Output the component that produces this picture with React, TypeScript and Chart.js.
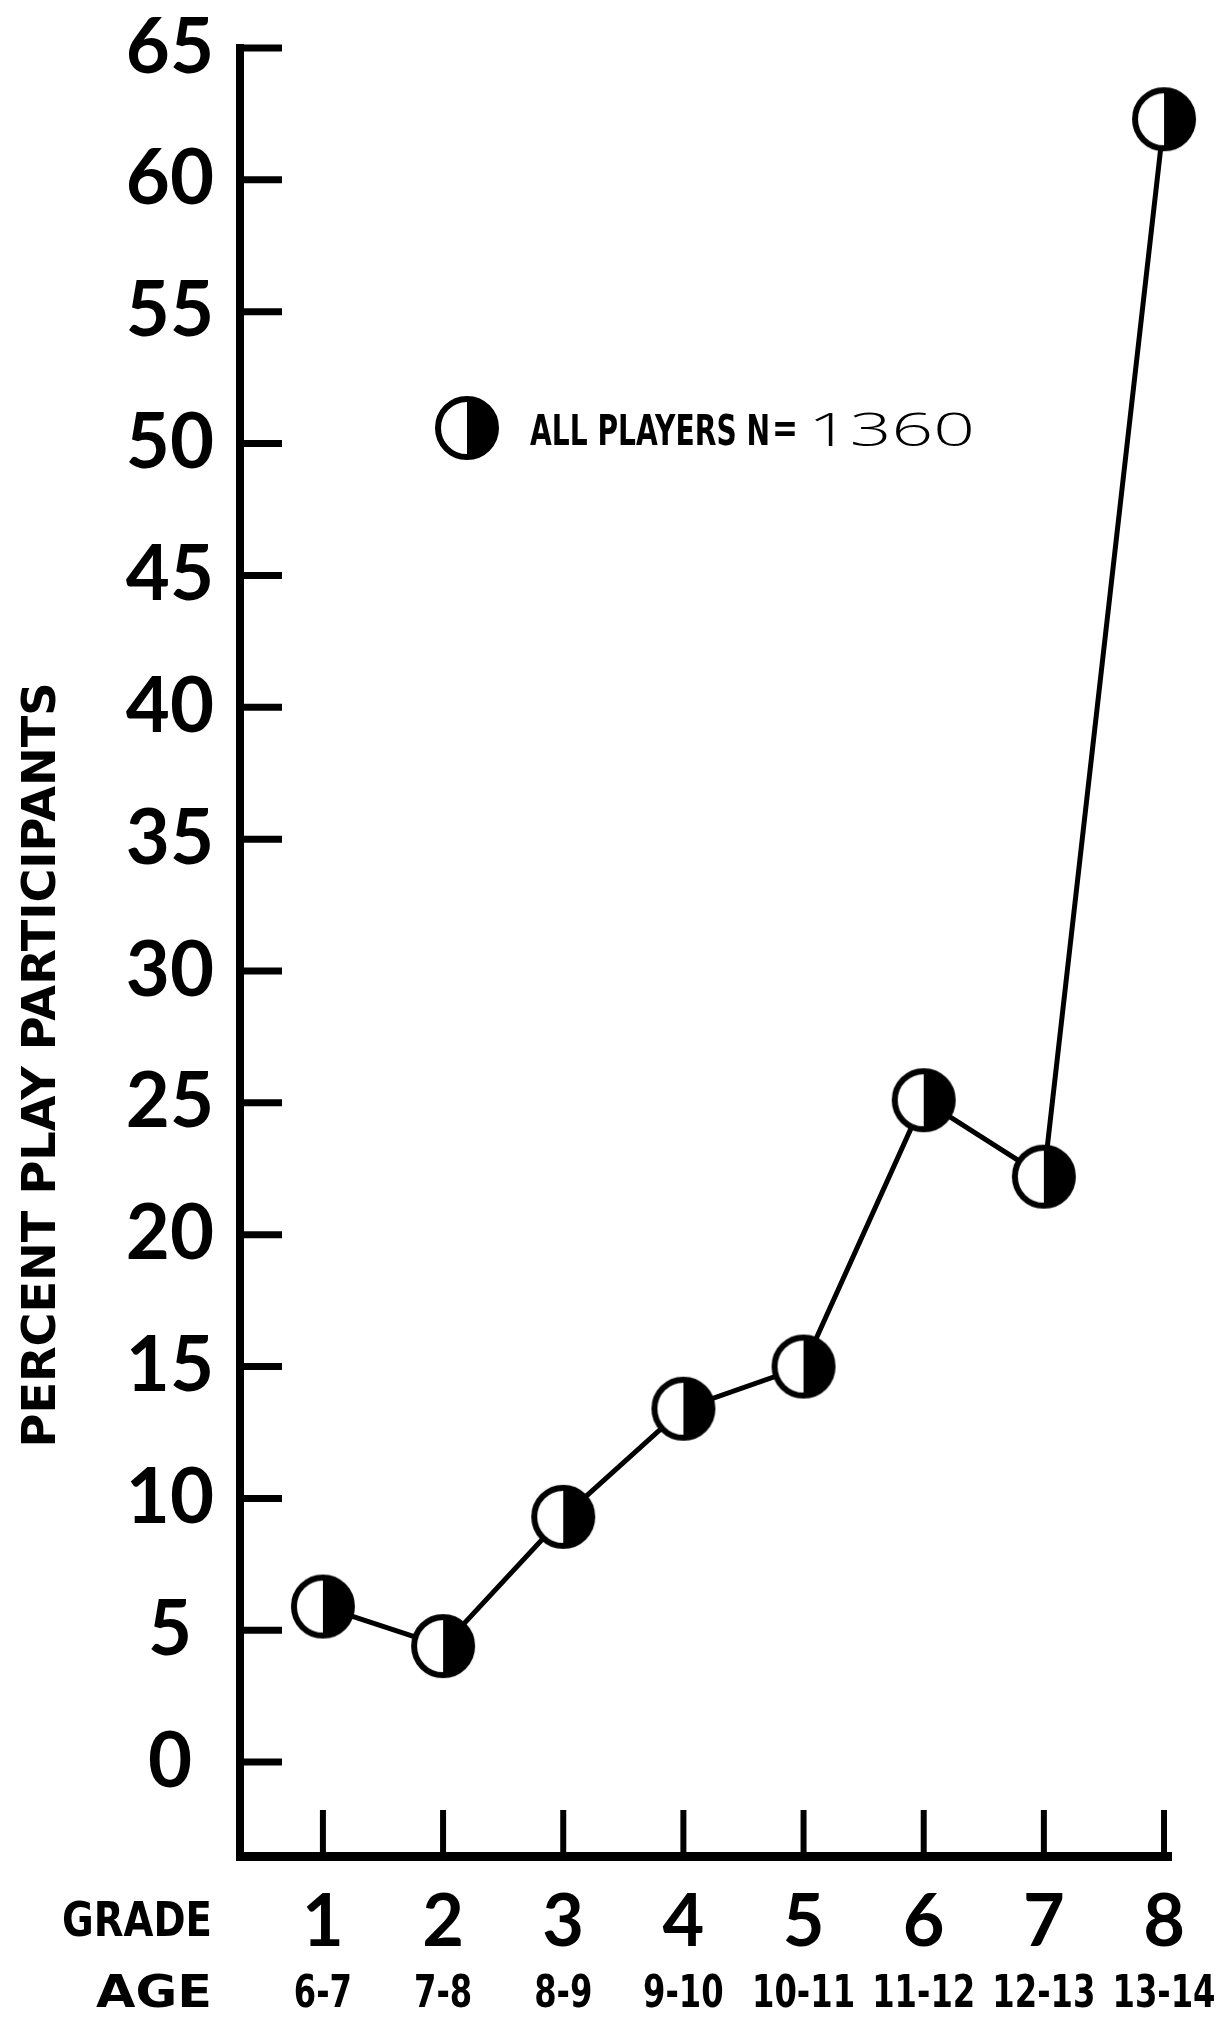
import React, { useEffect, useRef } from "react";
import { Chart, registerables } from "chart.js";

Chart.register(...registerables);

const grades = [1, 2, 3, 4, 5, 6, 7, 8];
const gradeLabels = ["1", "2", "3", "4", "5", "6", "7", "8"];
const ageLabels = ["6-7", "7-8", "8-9", "9-10", "10-11", "11-12", "12-13", "13-14"];
const percentPlayParticipants = [5.9, 4.4, 9.3, 13.4, 15.0, 25.1, 22.2, 62.3];
const yTickValues = [0, 5, 10, 15, 20, 25, 30, 35, 40, 45, 50, 55, 60, 65];
const yAxisTitle = "PERCENT PLAY PARTICIPANTS";
const gradeRowTitle = "GRADE";
const ageRowTitle = "AGE";
const legendLabel = "ALL PLAYERS N";
const legendEquals = "=";
const legendCount = "1360";

const HEAVY = '"DejaVu Sans"';

function makeMarker(): HTMLCanvasElement {
  const c = document.createElement("canvas");
  c.width = 70;
  c.height = 70;
  const ctx = c.getContext("2d") as CanvasRenderingContext2D;
  const cx = 35, cy = 35, r = 29;
  ctx.beginPath();
  ctx.arc(cx, cy, r, 0, Math.PI * 2);
  ctx.fillStyle = "#fff";
  ctx.fill();
  ctx.beginPath();
  ctx.moveTo(cx, cy - r);
  ctx.arc(cx, cy, r, -Math.PI / 2, Math.PI / 2);
  ctx.closePath();
  ctx.fillStyle = "#000";
  ctx.fill();
  ctx.beginPath();
  ctx.arc(cx, cy, r, 0, Math.PI * 2);
  ctx.lineWidth = 6;
  ctx.strokeStyle = "#000";
  ctx.stroke();
  return c;
}

function drawFitted(
  ctx: CanvasRenderingContext2D,
  text: string,
  x: number,
  y: number,
  font: string,
  targetW: number,
  align: CanvasTextAlign
) {
  ctx.save();
  ctx.font = font;
  ctx.textAlign = align;
  ctx.textBaseline = "alphabetic";
  const w = ctx.measureText(text).width || 1;
  ctx.translate(x, y);
  ctx.scale(targetW / w, 1);
  ctx.fillText(text, 0, 0);
  ctx.restore();
}

export default function App() {
  const ref = useRef<HTMLCanvasElement | null>(null);

  useEffect(() => {
    const canvas = ref.current;
    if (!canvas) return;
    const marker = makeMarker();

    const decor = {
      id: "decor",
      afterDraw(chart: any) {
        const ctx = chart.ctx as CanvasRenderingContext2D;
        const ca = chart.chartArea;
        const xs = chart.scales.x;
        const ys = chart.scales.y;
        ctx.save();
        ctx.strokeStyle = "#000";
        ctx.fillStyle = "#000";
        // y tick marks (pointing into the plot)
        ctx.lineWidth = 7;
        ctx.lineCap = "butt";
        yTickValues.forEach((v) => {
          const y = ys.getPixelForValue(v);
          ctx.beginPath();
          ctx.moveTo(ca.left, y);
          ctx.lineTo(ca.left + 42, y);
          ctx.stroke();
        });
        // x tick marks (pointing up)
        ctx.lineWidth = 6;
        grades.forEach((g) => {
          const x = xs.getPixelForValue(g);
          ctx.beginPath();
          ctx.moveTo(x, ca.bottom);
          ctx.lineTo(x, ca.bottom - 46);
          ctx.stroke();
        });
        // grade numbers
        ctx.font = "bold 72px Lato";
        ctx.textAlign = "center";
        ctx.textBaseline = "alphabetic";
        grades.forEach((g, i) => {
          const x = xs.getPixelForValue(g);
          ctx.fillText(gradeLabels[i], x, 1946);
        });
        // age labels (condensed, heavy)
        const ageFont = `bold 44px ${HEAVY}`;
        ctx.font = ageFont;
        const wRef = ctx.measureText("13-14").width || 1;
        const sx = 103 / wRef;
        grades.forEach((g, i) => {
          const x = xs.getPixelForValue(g);
          ctx.save();
          ctx.font = ageFont;
          ctx.textAlign = "center";
          ctx.translate(x, 2007);
          ctx.scale(sx, 1);
          ctx.fillText(ageLabels[i], 0, 0);
          ctx.restore();
        });
        // row titles
        drawFitted(ctx, gradeRowTitle, 62, 1936, `bold 48px ${HEAVY}`, 150, "left");
        drawFitted(ctx, ageRowTitle, 96, 2007, `bold 44px ${HEAVY}`, 116, "left");
        // y axis title
        ctx.save();
        ctx.translate(55, 1065);
        ctx.rotate(-Math.PI / 2);
        drawFitted(ctx, yAxisTitle, 0, 0, `bold 47px ${HEAVY}`, 765, "center");
        ctx.restore();
        // legend
        ctx.drawImage(marker, 467 - 35, 428 - 35);
        drawFitted(ctx, legendLabel, 530, 445, `bold 43px ${HEAVY}`, 240, "left");
        drawFitted(ctx, legendEquals, 772, 442, `bold 40px ${HEAVY}`, 26, "left");
        drawFitted(ctx, legendCount, 808, 446, '300 46px "Open Sans"', 167, "left");
        ctx.restore();
      },
    };

    const chart = new Chart(canvas, {
      type: "line",
      data: {
        datasets: [
          {
            label: "ALL PLAYERS N=1360",
            data: grades.map((g, i) => ({ x: g, y: percentPlayParticipants[i] })),
            borderColor: "#000",
            borderWidth: 5,
            pointStyle: marker as any,
            pointRadius: 32,
            pointHoverRadius: 32,
            tension: 0,
            clip: false as any,
            fill: false,
          },
        ],
      },
      options: {
        animation: false,
        responsive: false,
        devicePixelRatio: 1,
        events: [],
        layout: { padding: { left: 40, top: 48, right: 46, bottom: 0 } },
        plugins: {
          legend: { display: false },
          tooltip: { enabled: false },
          title: { display: false },
        },
        scales: {
          x: {
            type: "linear",
            min: 0.31,
            max: 8.058,
            afterBuildTicks: (s: any) => {
              s.ticks = grades.map((v) => ({ value: v }));
            },
            afterFit: (s: any) => {
              s.height = 161;
              s.paddingLeft = 0;
              s.paddingRight = 0;
              s.paddingTop = 0;
              s.paddingBottom = 0;
            },
            grid: { display: false, drawTicks: false },
            border: { display: true, width: 9, color: "#000" },
            ticks: { display: false },
          },
          y: {
            type: "linear",
            min: -3.56,
            max: 65,
            afterBuildTicks: (s: any) => {
              s.ticks = yTickValues.map((v) => ({ value: v }));
            },
            afterFit: (s: any) => {
              s.width = 200;
              s.paddingTop = 0;
              s.paddingBottom = 0;
            },
            grid: { display: false, drawTicks: false },
            border: { display: true, width: 8, color: "#000" },
            ticks: {
              autoSkip: false,
              color: "#000",
              padding: 26,
              crossAlign: "center",
              font: { family: "Lato", size: 76, weight: "bold" },
              callback: (v: any) => String(v),
            },
          },
        },
      },
      plugins: [decor],
    });

    return () => chart.destroy();
  }, []);

  return (
    <div style={{ position: "absolute", left: 0, top: 0, width: 1217, height: 2017, background: "#fff" }}>
      <canvas ref={ref} width={1217} height={2017} style={{ display: "block", width: 1217, height: 2017 }} />
    </div>
  );
}
